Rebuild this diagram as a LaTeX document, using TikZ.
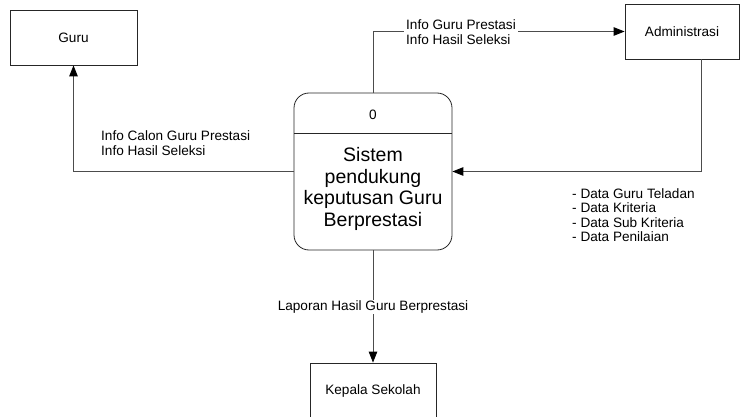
\documentclass[tikz,border=0pt]{standalone}
\usepackage{fontspec}
\setmainfont{Liberation Sans}
\usetikzlibrary{arrows.meta}
\begin{document}
\begin{tikzpicture}[x=1pt,y=-1pt,
  every node/.style={font=\fontsize{13.6}{15}\selectfont},
  entity/.style={draw=black!85, line width=0.8pt, rectangle, inner sep=0pt},
  flow/.style={draw=black!70, line width=0.9pt, -{Triangle[length=11pt,width=8.5pt,color=black,fill=black]}},
  lbl/.style={align=left, inner sep=0pt, anchor=west},
  lblbg/.style={align=left, fill=white, inner xsep=2pt, inner ysep=0pt, anchor=west}]
\useasboundingbox (0,0) rectangle (740,417);
\fill[white] (0,0) rectangle (740,417);
% entities
\node[entity, minimum width=127pt, minimum height=55pt] (guru) at (73.5,37.5) {Guru};
\node[entity, minimum width=114pt, minimum height=55pt] (admin) at (682,31.5) {Administrasi};
\node[entity, minimum width=126pt, minimum height=56pt] (kepala) at (373,391) {Kepala Sekolah};
% process
\node[draw=black!85, line width=0.8pt, rounded corners=15pt, minimum width=158pt, minimum height=157pt, inner sep=0pt] (proc) at (373,171.5) {};
\coordinate (dl) at (294,133);
\coordinate (dr) at (452,133);
\draw[black!85, line width=0.8pt] (dl) -- (dr);
\node (pid) at (373,115) {0};
\node[align=center, font=\fontsize{19.5}{21.8}\selectfont, inner sep=0pt] (ptext) at (373,189) {Sistem\\pendukung\\keputusan Guru\\Berprestasi};
% flows
\draw[flow] (proc.west) -| (guru.south);
\draw[flow] (proc.north) |- (admin.west);
\coordinate (adminout) at (701,59);
\draw[flow] (adminout) |- (proc.east);
\draw[flow] (proc.south) -- (kepala.north);
% labels
\node[lbl] (l1) at (101,143) {Info Calon Guru Prestasi\\Info Hasil Seleksi};
\node[lblbg] (l2) at (404,32.5) {Info Guru Prestasi\\Info Hasil Seleksi};
\node[lbl, font=\fontsize{13.6}{14.5}\selectfont] (l3) at (572,215) {- Data Guru Teladan\\- Data Kriteria\\- Data Sub Kriteria\\- Data Penilaian};
\node[fill=white, inner xsep=1pt, inner ysep=1pt] (l4) at (373,307) {Laporan Hasil Guru Berprestasi};
\end{tikzpicture}
\end{document}
